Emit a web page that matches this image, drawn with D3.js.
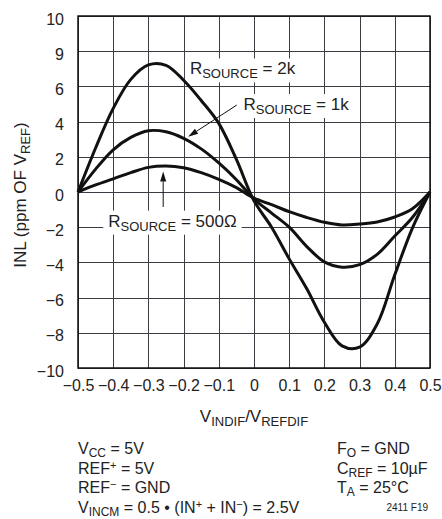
<!DOCTYPE html>
<html>
<head>
<meta charset="utf-8">
<script src="https://cdn.jsdelivr.net/npm/d3@7"></script>
<style>
  body { margin: 0; background: #fff; }
  svg { display: block; font-family: "Liberation Sans", Arial, sans-serif; }
  .curve { fill: none; stroke: #111; stroke-width: 3; }
  .lbl { font-size: 17px; fill: #222; }
  .note { font-size: 16px; fill: #222; }
</style>
</head>
<body>
<svg id="chart" width="442" height="519"></svg>
<script>
// x values (V_INDIF / V_REFDIF)
var xValues = [-0.5,-0.45,-0.4,-0.35,-0.3,-0.25,-0.2,-0.15,-0.1,-0.05,0,0.05,0.1,0.15,0.2,0.25,0.3,0.35,0.4,0.45,0.5]

// INL in ppm
var inl2k  = [0,2.5,4.75,6.4,7.22,7.2,6.35,5.2,3.9,1.85,-0.5,-2.0,-3.8,-5.5,-7.4,-8.74,-8.81,-7.5,-4.7,-2.05,0]
var inl1k  = [0,1.3,2.4,3.1,3.48,3.42,3.05,2.45,1.65,0.7,-0.4,-1.2,-2.0,-3.1,-3.97,-4.27,-4.13,-3.54,-2.5,-1.45,0]
var inl500 = [0,0.4,0.75,1.1,1.4,1.48,1.38,1.1,0.72,0.25,-0.35,-0.72,-1.12,-1.45,-1.72,-1.87,-1.82,-1.7,-1.42,-0.95,0]

var xTicks = [-0.5,-0.4,-0.3,-0.2,-0.1,0,0.1,0.2,0.3,0.4,0.5]
var xTickLabels = ["\u22120.5","\u22120.4","\u22120.3","\u22120.2","\u22120.1","0","0.1","0.2","0.3","0.4","0.5"]
var yTicks = [10,8,6,4,2,0,-2,-4,-6,-8,-10]
var yTickLabels = ["10","9","6","4","2","0","\u22122","\u22124","\u22126","\u22128","\u221210"]

var margin = {left: 78, top: 16}
var plotW = 352, plotH = 352

var xScale = d3.scaleLinear().domain([-0.5, 0.5]).range([0, plotW])
var yScale = d3.scaleLinear().domain([-10, 10]).range([plotH, 0])

var svg = d3.select("#chart")
var g = svg.append("g").attr("transform", "translate(" + margin.left + "," + margin.top + ")")

// gridlines as thin filled rects
g.selectAll("rect.h").data(yTicks).enter().append("rect")
    .attr("x", 0).attr("width", plotW)
    .attr("y", function(d) { return Math.round(yScale(d)) })
    .attr("height", 1)
    .attr("fill", "#3c3c44")
g.selectAll("rect.v").data(xTicks).enter().append("rect")
    .attr("y", 0).attr("height", plotH)
    .attr("x", function(d) { return Math.round(xScale(d)) })
    .attr("width", 1)
    .attr("fill", "#3c3c44")

// tick labels
var yAxis = g.append("g")
    .call(d3.axisLeft(yScale)
        .tickValues(yTicks)
        .tickSize(0)
        .tickPadding(14)
        .tickFormat(function(d, i) { return yTickLabels[i] }))
var xAxis = g.append("g")
    .attr("transform", "translate(0," + plotH + ")")
    .call(d3.axisBottom(xScale)
        .tickValues(xTicks)
        .tickSize(0)
        .tickPadding(12)
        .tickFormat(function(d, i) { return xTickLabels[i] }))

;[yAxis, xAxis].forEach(function(a) {
  a.select(".domain").remove()
  a.selectAll(".tick text").attr("font-size", 16).attr("fill", "#222")
    .attr("font-family", "Liberation Sans, Arial, sans-serif")
})
yAxis.selectAll(".tick text").attr("dy", "0.5em")

// curve labels: [main, sub, rest, x, y]
var labels = [
  ["R", "SOURCE", " = 2k", -0.182, 6.68],
  ["R", "SOURCE", " = 1k", -0.030, 4.66],
  ["R", "SOURCE", " = 500\u03A9", -0.414, -1.97]
]

function subText(sel, parts) {
  parts.forEach(function(p) {
    var t = sel.append("tspan").text(p[0])
    if (p[1]) t.attr("dy", 4).attr("font-size", "13px")
    else if (p[2]) t.attr("dy", -4)
  })
}

var boxG = g.append("g")
var labelG = g.append("g")
var labelTexts = labels.map(function(l) {
  var t = labelG.append("text")
      .attr("class", "lbl")
      .attr("x", xScale(l[3]))
      .attr("y", yScale(l[4]))
  subText(t, [[l[0]], [l[1], true], [l[2], false, true]])
  return t
})

// white boxes behind labels
labelTexts.forEach(function(t) {
  var b = t.node().getBBox()
  boxG.append("rect")
      .attr("x", b.x - 5).attr("y", b.y - 1)
      .attr("width", b.width + 10).attr("height", b.height + 2)
      .attr("fill", "#fff")
})

// plot frame
g.append("rect")
    .attr("width", plotW).attr("height", plotH)
    .attr("fill", "none").attr("stroke", "#111").attr("stroke-width", 1.5)

// curves
var lineGen = d3.line()
    .x(function(d, i) { return xScale(xValues[i]) })
    .y(function(d) { return yScale(d) })
    .curve(d3.curveCatmullRom)

;[inl2k, inl1k, inl500].forEach(function(s) {
  g.append("path").datum(s).attr("class", "curve").attr("d", lineGen)
})
g.node().appendChild(labelG.node())

// pointer arrows
var arrows = [
  [-0.049, 4.94, -0.187, 3.14],
  [-0.258, -0.85, -0.258, 1.16]
]
arrows.forEach(function(a) {
  var x1 = xScale(a[0]), y1 = yScale(a[1]), x2 = xScale(a[2]), y2 = yScale(a[3])
  var ang = Math.atan2(y2 - y1, x2 - x1), len = 10, hw = 3
  var bx = x2 - len * Math.cos(ang), by = y2 - len * Math.sin(ang)
  g.append("line")
      .attr("x1", x1).attr("y1", y1).attr("x2", bx).attr("y2", by)
      .attr("stroke", "#111").attr("stroke-width", 1)
  g.append("path")
      .attr("d", "M" + x2 + "," + y2 +
        "L" + (bx + hw * Math.sin(ang)) + "," + (by - hw * Math.cos(ang)) +
        "L" + (bx - hw * Math.sin(ang)) + "," + (by + hw * Math.cos(ang)) + "Z")
      .attr("fill", "#111")
})

// axis titles
var xt = svg.append("text").attr("class", "lbl")
    .attr("x", margin.left + plotW / 2).attr("y", 422)
    .attr("text-anchor", "middle")
subText(xt, [["V"], ["INDIF", true], ["/V", false, true], ["REFDIF", true]])

var yt = svg.append("text").attr("class", "lbl")
    .attr("transform", "translate(26," + (margin.top + plotH / 2 + 3) + ") rotate(-90)")
    .attr("text-anchor", "middle")
subText(yt, [["INL (ppm OF V"], ["REF", true], [")", false, true]])

// conditions
var notesLeft = [
  [["V"], ["CC", true], [" = 5V", false, true]],
  [["REF"], ["+", "sup"], [" = 5V", "down"]],
  [["REF"], ["\u2212", "sup"], [" = GND", "down"]],
  [["V"], ["INCM", true], [" = 0.5 \u2022 (IN", false, true], ["+", "sup"], [" + IN", "down"], ["\u2212", "sup"], [") = 2.5V", "down"]]
]
var notesRight = [
  [["F"], ["O", true], [" = GND", false, true]],
  [["C"], ["REF", true], [" = 10\u00B5F", false, true]],
  [["T"], ["A", true], [" = 25\u00B0C", false, true]]
]
var noteBase = [454, 473.5, 493, 512.5]

function noteText(parts, x, y) {
  var t = svg.append("text").attr("class", "note").attr("x", x).attr("y", y)
  parts.forEach(function(p) {
    var s = t.append("tspan").text(p[0])
    if (p[1] === true) s.attr("dy", 3).attr("font-size", "12px")
    else if (p[1] === "sup") s.attr("dy", -5).attr("font-size", "11px")
    else if (p[1] === "down") s.attr("dy", 5)
    else if (p[2]) s.attr("dy", -3)
  })
}
notesLeft.forEach(function(n, i) { noteText(n, 78, noteBase[i]) })
notesRight.forEach(function(n, i) { noteText(n, 337, noteBase[i]) })

svg.append("text")
    .attr("x", 428).attr("y", 511)
    .attr("text-anchor", "end")
    .attr("font-size", "10px").attr("fill", "#222")
    .text("2411 F19")
</script>
</body>
</html>
